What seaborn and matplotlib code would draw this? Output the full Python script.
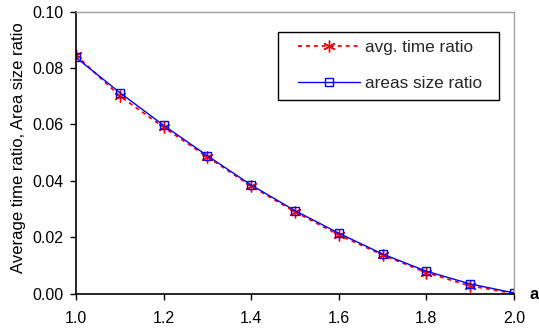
import matplotlib
matplotlib.use("Agg")
import matplotlib.pyplot as plt
from matplotlib.patches import Rectangle
import seaborn as sns
import pandas as pd

a_values = [1.0, 1.1, 1.2, 1.3, 1.4, 1.5, 1.6, 1.7, 1.8, 1.9, 2.0]
avg_time_ratio = [0.0846, 0.0701, 0.0590, 0.0485, 0.0381, 0.0290, 0.0208, 0.0137, 0.0074, 0.0027, 0.0000]
area_size_ratio = [0.0838, 0.0713, 0.0597, 0.0489, 0.0385, 0.0294, 0.0214, 0.0140, 0.0079, 0.0034, 0.0002]
x_ticks = [1.0, 1.2, 1.4, 1.6, 1.8, 2.0]
y_ticks = [0.00, 0.02, 0.04, 0.06, 0.08, 0.10]

sns.set_theme(style="white")
plt.rcParams['font.family'] = ['Liberation Sans', 'DejaVu Sans']

df = pd.DataFrame({"a": a_values, "avg": avg_time_ratio, "area": area_size_ratio})

W, H = 539, 332
fig = plt.figure(figsize=(W/100, H/100), dpi=100)
ax = fig.add_axes([75.9/W, 1-293.5/H, (514-75.9)/W, (293.5-11.7)/H])

sns.lineplot(data=df, x="a", y="avg", ax=ax, color="#FF0000", linestyle=(0, (2.2, 2.2)),
             linewidth=1.3, marker=(6, 2, 0), markersize=8.5, markeredgewidth=1.0,
             markeredgecolor="#FF0000", label="avg. time ratio")
sns.lineplot(data=df, x="a", y="area", ax=ax, color="#0000FF", linestyle="-",
             linewidth=1.0, marker="s", markersize=6, markerfacecolor="none",
             markeredgecolor="#0000FF", markeredgewidth=1.0, label="areas size ratio")

ax.set_xlim(1.0, 2.0)
ax.set_ylim(0.0, 0.10)
ax.set_xticks(x_ticks)
ax.set_xticklabels([f"{v:.1f}" for v in x_ticks])
ax.set_yticks(y_ticks)
ax.set_yticklabels([f"{v:.2f}" for v in y_ticks])
ax.tick_params(axis="both", direction="out", length=4, width=1, color="black",
               labelsize=11.5, labelcolor="black", bottom=True, left=True)
ax.tick_params(axis="y", pad=5)
ax.tick_params(axis="x", pad=8.5)

for side in ["left", "bottom"]:
    ax.spines[side].set_color("black")
    ax.spines[side].set_linewidth(1.2)
for side in ["top", "right"]:
    ax.spines[side].set_visible(True)
    ax.spines[side].set_color("#A0A0A0")
    ax.spines[side].set_linewidth(1.0)

ax.set_xlabel("")
ax.set_ylabel("Average time ratio, Area size ratio", fontsize=12, color="black", labelpad=4)
ax.yaxis.set_label_coords(-0.113, 0.518)
ax.text(1.045, -0.005, "a", transform=ax.transAxes, fontsize=12, fontweight="bold",
        ha="center", va="center", color="black")

# legend box (frame drawn separately, in pixel coordinates of the figure)
lx0, ly0, lx1, ly1 = 277.7, 31.7, 499.3, 100.0
frame = Rectangle((lx0/W, 1-ly1/H), (lx1-lx0)/W, (ly1-ly0)/H,
                  transform=fig.transFigure, facecolor="white",
                  edgecolor="black", linewidth=1.0, zorder=5, clip_on=False)
ax.add_patch(frame)
leg = ax.legend(loc="upper left", bbox_to_anchor=(298/W, 1-40.0/H),
                bbox_transform=fig.transFigure,
                borderaxespad=0, frameon=False, fontsize=12.3, handlelength=3.6,
                handletextpad=0.33, labelspacing=1.2, borderpad=0)
leg.set_zorder(6)

fig.savefig("out.png", dpi=100)
